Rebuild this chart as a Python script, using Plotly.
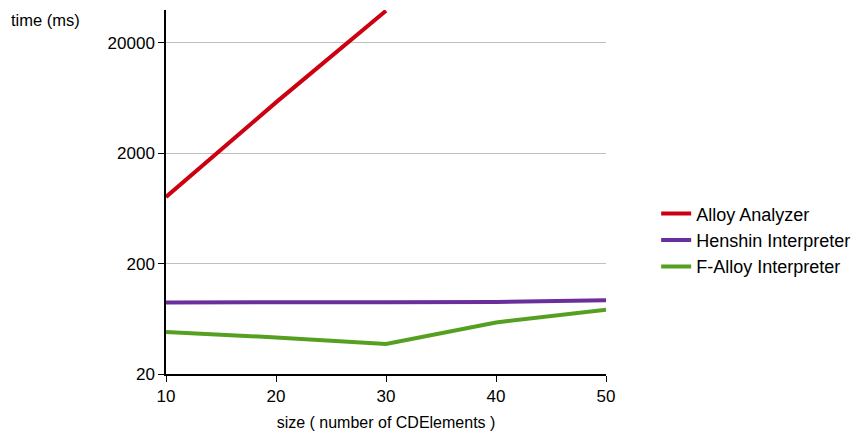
import plotly.graph_objects as go

sizes = [10, 20, 30, 40, 50]
alloy_analyzer = [803, 5770, 39000]
henshin = [89, 90, 89.5, 90, 93]
falloy = [48, 42.9, 37.4, 58.6, 76.4]
y_ticks = [20, 200, 2000, 20000]

font = "Liberation Sans, Arial, sans-serif"

fig = go.Figure()
fig.add_trace(go.Scatter(x=sizes[:len(alloy_analyzer)], y=alloy_analyzer, mode="lines",
                         name="Alloy Analyzer", line=dict(color="#cc0011", width=4)))
fig.add_trace(go.Scatter(x=sizes, y=henshin, mode="lines",
                         name="Henshin Interpreter", line=dict(color="#6a2f9a", width=4)))
fig.add_trace(go.Scatter(x=sizes, y=falloy, mode="lines",
                         name="F-Alloy Interpreter", line=dict(color="#55a020", width=4)))

fig.update_layout(
    width=856, height=434,
    margin=dict(l=166, r=250, t=10, b=60, autoexpand=False),
    paper_bgcolor="white", plot_bgcolor="white",
    font=dict(family=font, size=17, color="black"),
    showlegend=True,
    legend=dict(x=1.114, y=0.367, xanchor="left", yanchor="middle",
                font=dict(size=18), bgcolor="rgba(0,0,0,0)"),
    xaxis=dict(range=[10, 50], tickvals=sizes, showgrid=False, zeroline=False,
               showline=True, linecolor="black", linewidth=1.5,
               ticks="outside", ticklen=6, tickcolor="black",
               title=dict(text="size ( number of CDElements )", font=dict(size=16), standoff=12)),
    yaxis=dict(type="log", range=[1.30103, 4.598], tickvals=y_ticks,
               ticktext=[str(v) for v in y_ticks],
               showgrid=True, gridcolor="#c0c0c0", gridwidth=1, zeroline=False,
               showline=True, linecolor="black", linewidth=1.5,
               ticks="outside", ticklen=6, tickcolor="black"),
    annotations=[dict(text="time (ms)", x=-157/440, y=0.972, xref="paper", yref="paper",
                      showarrow=False, font=dict(size=16.5), xanchor="left", yanchor="middle")],
)

fig.write_html("out.html", config={"displayModeBar": False},
               post_script="document.body.style.margin='0';")
